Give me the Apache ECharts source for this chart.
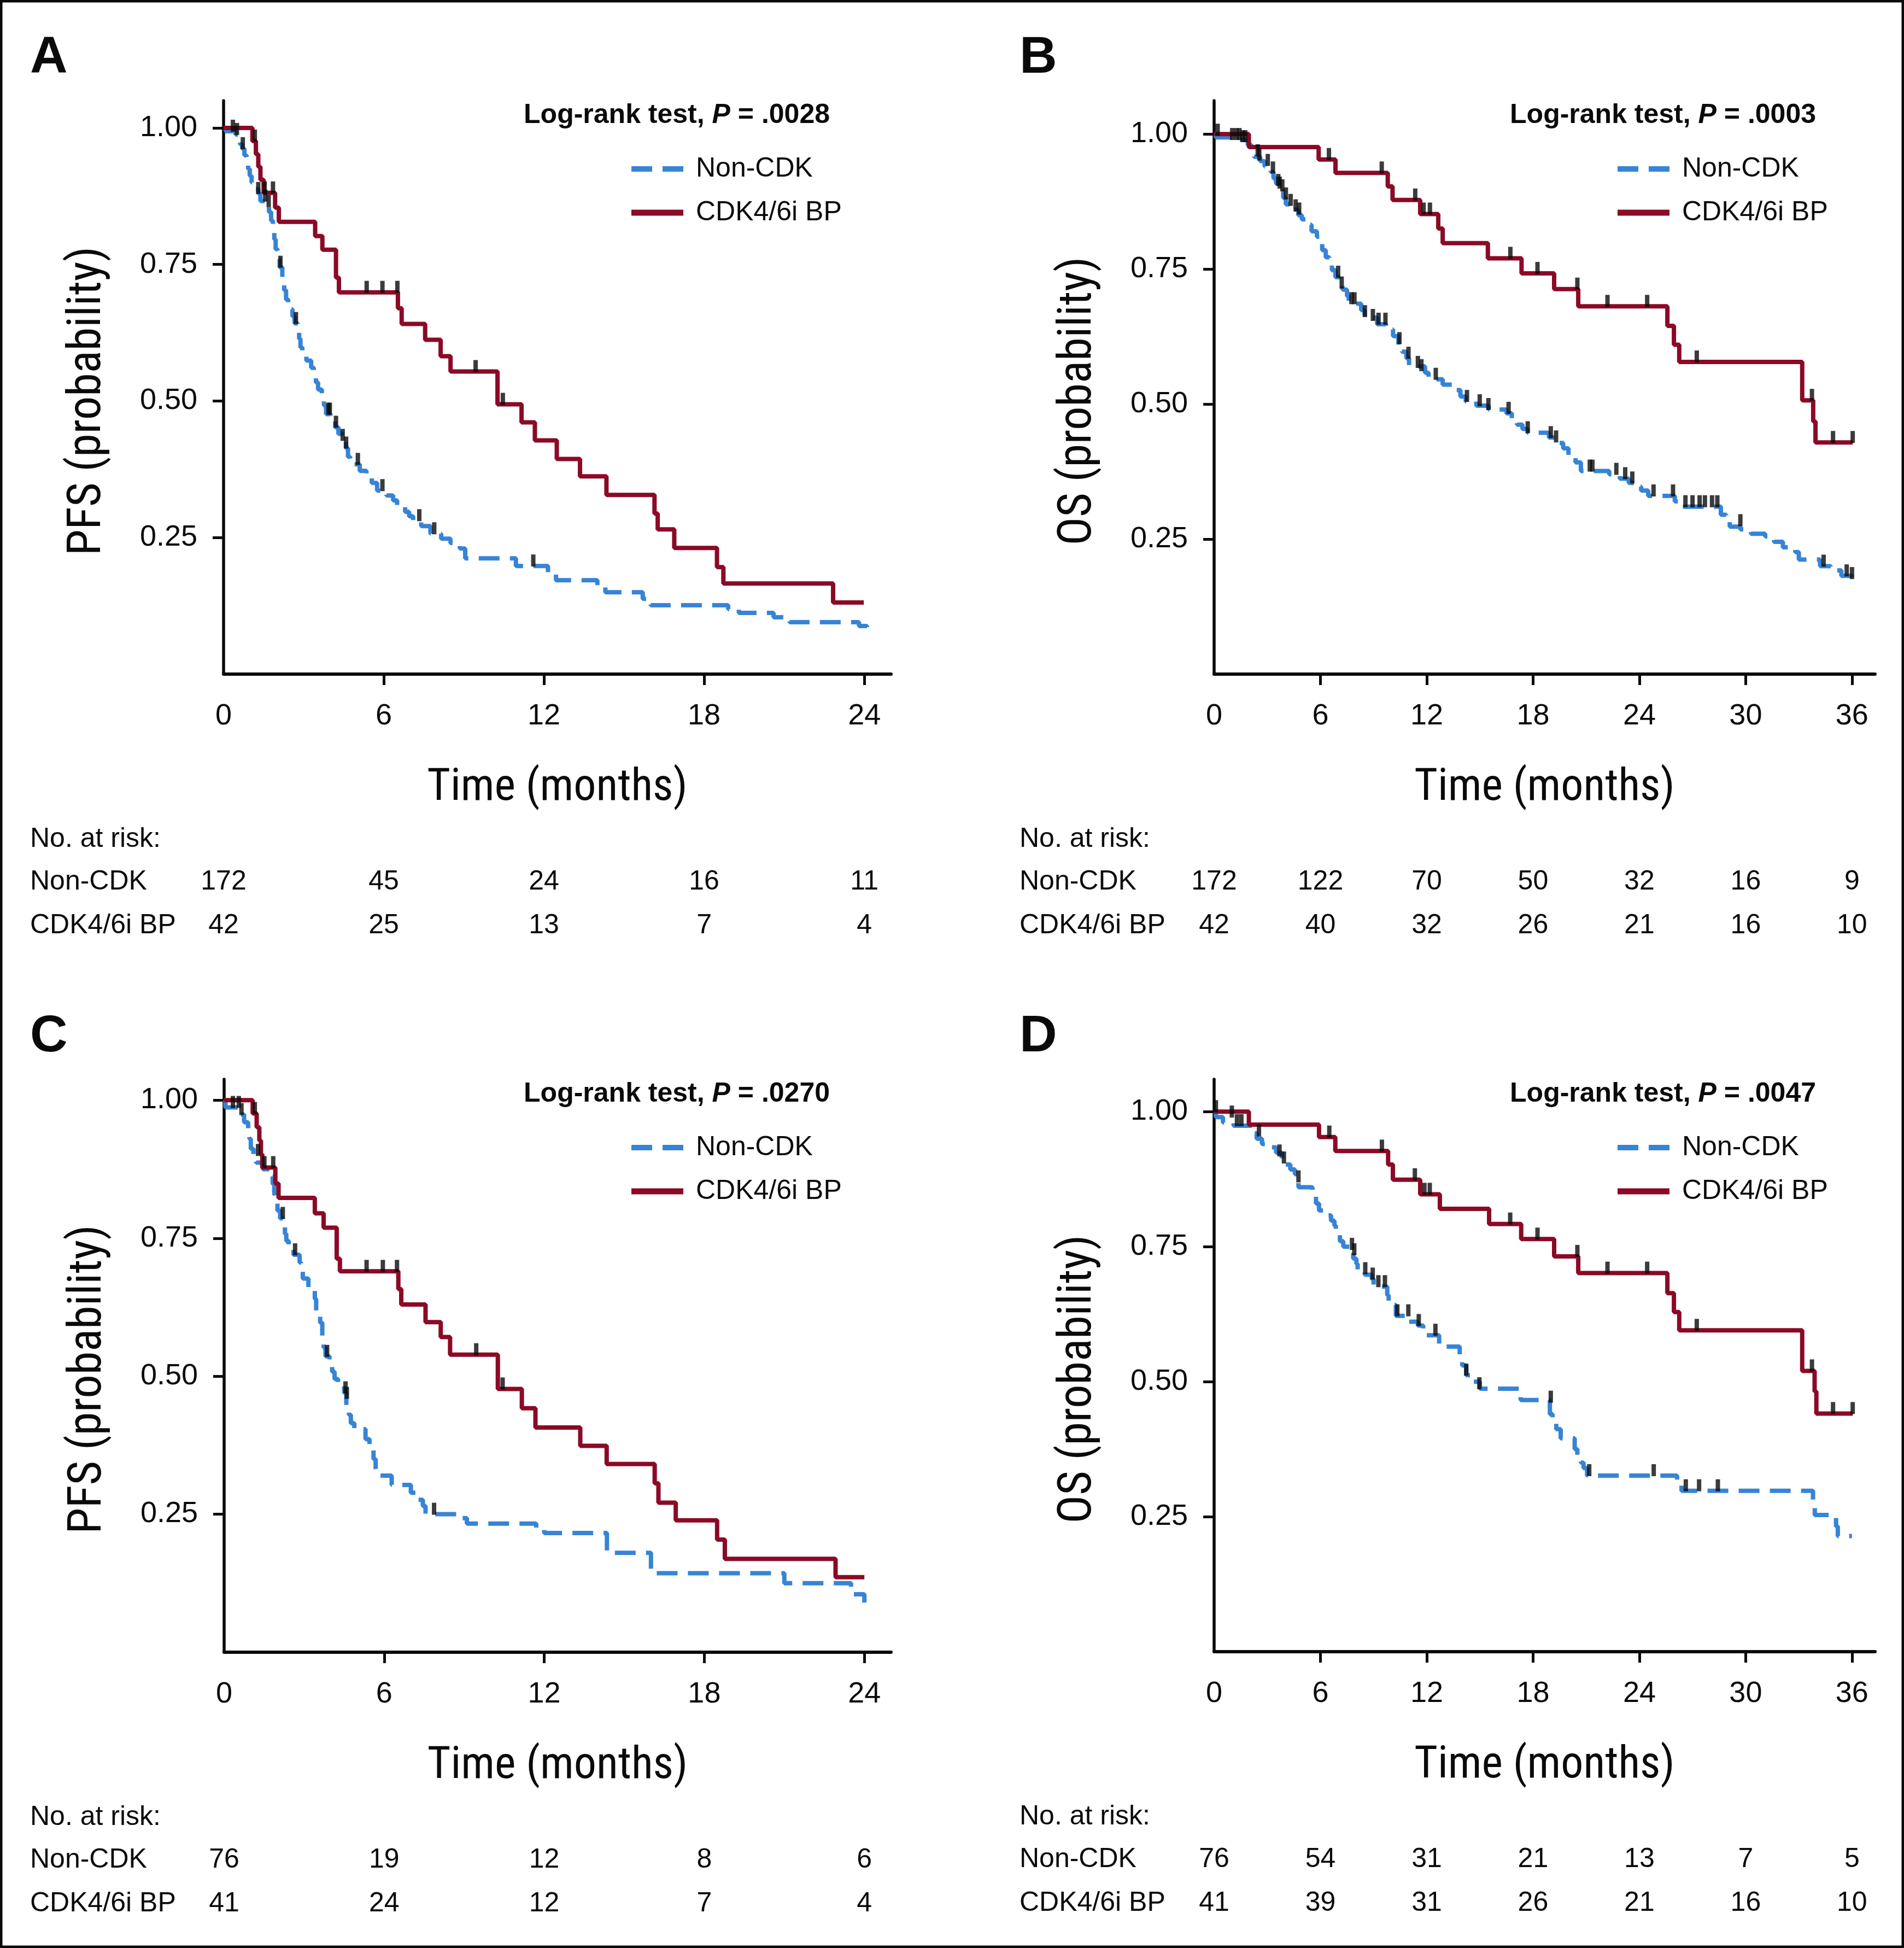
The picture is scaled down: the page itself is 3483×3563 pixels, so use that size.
<!DOCTYPE html>
<html><head><meta charset="utf-8">
<script src="https://cdn.jsdelivr.net/npm/echarts@6/dist/echarts.min.js"></script>
<style>html,body{margin:0;padding:0;background:#fff}#c{width:3483px;height:3563px}</style>
</head><body><div id="c"></div>
<script>
// ---------- DATA ----------
// Panel A: PFS, all patients (step points: [time, survival after event])
const pfsAllNonCdk = [[0,1],[0.08,0.994],[0.45,0.988],[0.55,0.981],[0.62,0.970],[0.70,0.962],[0.78,0.950],[0.86,0.940],[0.92,0.925],[0.98,0.912],[1.05,0.900],[1.12,0.888],[1.30,0.880],[1.38,0.866],[1.60,0.856],[1.70,0.846],[1.78,0.830],[1.85,0.814],[1.90,0.796],[1.95,0.778],[2.02,0.760],[2.10,0.745],[2.20,0.722],[2.27,0.703],[2.34,0.686],[2.42,0.668],[2.58,0.655],[2.66,0.642],[2.78,0.630],[2.83,0.614],[2.88,0.598],[2.95,0.586],[3.10,0.574],[3.28,0.561],[3.38,0.547],[3.46,0.534],[3.54,0.521],[3.68,0.508],[3.76,0.492],[3.84,0.476],[4.00,0.464],[4.18,0.452],[4.30,0.440],[4.45,0.428],[4.58,0.414],[4.66,0.398],[4.74,0.384],[5.10,0.372],[5.35,0.362],[5.55,0.350],[5.75,0.336],[6.10,0.327],[6.35,0.318],[6.50,0.308],[6.80,0.297],[6.95,0.289],[7.10,0.281],[7.40,0.271],[7.75,0.257],[8.15,0.248],[8.50,0.240],[8.85,0.230],[9.05,0.212],[10.95,0.198],[12.15,0.186],[12.45,0.172],[14.0,0.162],[14.3,0.150],[15.7,0.138],[16.0,0.126],[18.9,0.119],[19.3,0.112],[20.6,0.104],[21.2,0.095],[23.8,0.088],[24.1,0.081]];
const pfsAllCdk = [[0,1],[1.08,0.976],[1.21,0.952],[1.30,0.929],[1.38,0.905],[1.50,0.881],[1.93,0.854],[2.07,0.828],[3.43,0.802],[3.70,0.777],[4.21,0.726],[4.32,0.699],[6.53,0.670],[6.67,0.641],[7.55,0.612],[8.13,0.582],[8.50,0.554],[10.26,0.494],[11.16,0.461],[11.66,0.428],[12.48,0.394],[13.35,0.362],[14.34,0.328],[16.14,0.294],[16.26,0.265],[16.88,0.231],[18.48,0.196],[18.72,0.166],[22.83,0.131],[23.98,0.131]];
const pfsAllNonCdkCensor = [[0.35,0.994],[0.50,0.988],[0.72,0.962],[1.30,0.880],[1.56,0.866],[1.69,0.856],[2.13,0.745],[2.71,0.642],[3.93,0.476],[3.98,0.476],[4.21,0.452],[4.46,0.428],[4.59,0.414],[5.03,0.384],[5.95,0.336],[7.33,0.281],[7.89,0.257],[11.6,0.198]];
const pfsAllCdkCensor = [[1.17,0.976],[1.54,0.881],[1.85,0.881],[5.36,0.699],[5.95,0.699],[6.51,0.699],[9.44,0.554],[10.46,0.494]];
const pfsAllRiskTimes = [0,6,12,18,24];
const pfsAllRiskNonCdk = [172,45,24,16,11];
const pfsAllRiskCdk = [42,25,13,7,4];

// Panel B: OS, all patients
const osAllNonCdk = [[0,1],[0.1,0.994],[1.1,0.990],[1.9,0.980],[2.1,0.968],[2.25,0.958],[2.6,0.950],[2.85,0.940],[3.2,0.930],[3.35,0.918],[3.5,0.908],[3.75,0.895],[3.9,0.882],[4.05,0.870],[4.35,0.860],[4.75,0.850],[4.95,0.842],[5.3,0.832],[5.5,0.820],[5.8,0.810],[5.95,0.797],[6.1,0.785],[6.3,0.772],[6.5,0.760],[6.65,0.748],[6.85,0.735],[7.05,0.725],[7.25,0.712],[7.5,0.700],[7.6,0.686],[8.3,0.674],[8.5,0.660],[9.2,0.648],[9.7,0.638],[10.1,0.626],[10.4,0.610],[10.6,0.597],[10.85,0.585],[11.0,0.570],[11.9,0.558],[12.1,0.546],[12.9,0.536],[13.6,0.526],[13.9,0.514],[14.2,0.505],[14.8,0.497],[15.5,0.490],[16.5,0.483],[16.8,0.472],[17.1,0.462],[17.4,0.454],[17.7,0.447],[18.9,0.438],[19.3,0.428],[19.7,0.418],[20.0,0.405],[20.4,0.392],[20.7,0.376],[22.3,0.370],[22.9,0.362],[23.4,0.354],[23.8,0.347],[24.1,0.340],[24.5,0.330],[26.0,0.320],[26.4,0.310],[28.6,0.295],[28.9,0.283],[29.1,0.273],[29.7,0.268],[30.3,0.260],[31.1,0.255],[31.6,0.245],[32.1,0.235],[32.8,0.226],[33.0,0.212],[34.2,0.200],[34.8,0.192],[35.4,0.182],[36.0,0.177]];
const osAllCdk = [[0,1],[1.96,0.976],[5.9,0.953],[6.85,0.928],[9.8,0.903],[10.07,0.878],[11.63,0.852],[12.65,0.825],[12.9,0.798],[15.45,0.770],[17.35,0.742],[19.19,0.713],[20.55,0.681],[25.58,0.645],[25.95,0.610],[26.25,0.578],[33.19,0.507],[33.81,0.468],[33.94,0.429],[36.04,0.429]];
const osAllNonCdkCensor = [[0.2,0.998],[1.02,0.99],[1.26,0.99],[1.43,0.99],[1.61,0.986],[1.76,0.986],[2.46,0.96],[2.55,0.952],[3.03,0.942],[3.32,0.928],[3.62,0.905],[3.7,0.9],[3.85,0.895],[4.05,0.88],[4.32,0.868],[4.6,0.858],[4.8,0.852],[7.0,0.735],[7.2,0.715],[7.75,0.686],[7.92,0.686],[8.51,0.662],[8.96,0.655],[9.28,0.648],[9.67,0.648],[10.46,0.612],[10.97,0.585],[11.5,0.568],[11.7,0.562],[12.51,0.546],[14.27,0.505],[14.99,0.497],[15.48,0.490],[16.62,0.483],[17.7,0.447],[19.0,0.438],[19.3,0.43],[21.2,0.376],[21.35,0.376],[22.7,0.37],[23.2,0.362],[23.6,0.354],[24.8,0.33],[25.9,0.33],[26.6,0.31],[27.0,0.31],[27.4,0.31],[27.7,0.31],[28.1,0.31],[28.4,0.31],[29.7,0.275],[34.4,0.2],[35.7,0.182],[36.0,0.177]];
const osAllCdkCensor = [[6.48,0.953],[9.46,0.928],[11.35,0.878],[11.82,0.852],[12.18,0.852],[16.72,0.770],[18.25,0.742],[20.5,0.713],[22.2,0.681],[24.44,0.681],[27.24,0.578],[33.74,0.507],[34.93,0.429],[36.04,0.429]];
const osAllRiskTimes = [0,6,12,18,24,30,36];
const osAllRiskNonCdk = [172,122,70,50,32,16,9];
const osAllRiskCdk = [42,40,32,26,21,16,10];

// Panel C: PFS, matched cohort
const pfsMatchedNonCdk = [[0,1],[0.05,0.987],[0.6,0.974],[0.75,0.960],[0.9,0.947],[0.95,0.930],[1.0,0.912],[1.1,0.900],[1.2,0.887],[1.45,0.875],[1.76,0.862],[1.82,0.848],[1.88,0.834],[1.92,0.815],[2.0,0.800],[2.1,0.786],[2.2,0.772],[2.28,0.758],[2.33,0.745],[2.42,0.732],[2.6,0.720],[2.83,0.706],[2.88,0.690],[2.95,0.677],[3.16,0.655],[3.4,0.640],[3.45,0.612],[3.6,0.597],[3.68,0.570],[3.73,0.552],[3.8,0.536],[3.95,0.522],[4.05,0.508],[4.14,0.495],[4.27,0.483],[4.5,0.470],[4.58,0.445],[4.68,0.430],[4.75,0.415],[4.88,0.404],[5.30,0.386],[5.45,0.368],[5.60,0.350],[5.68,0.334],[5.72,0.320],[6.28,0.303],[7.0,0.289],[7.25,0.276],[7.45,0.265],[7.55,0.250],[8.7,0.243],[9.1,0.233],[11.7,0.225],[12.0,0.216],[14.35,0.180],[16.0,0.143],[21.0,0.125],[23.5,0.105],[24.0,0.09]];
const pfsMatchedCdk = [[0,1],[1.07,0.976],[1.22,0.951],[1.32,0.927],[1.38,0.902],[1.43,0.878],[1.92,0.849],[2.04,0.823],[3.40,0.795],[3.73,0.769],[4.22,0.713],[4.34,0.690],[6.53,0.658],[6.64,0.630],[7.55,0.598],[8.12,0.571],[8.47,0.539],[10.26,0.477],[11.16,0.442],[11.67,0.407],[13.35,0.374],[14.34,0.341],[16.14,0.306],[16.28,0.271],[16.93,0.239],[18.48,0.204],[18.77,0.169],[22.92,0.136],[24.0,0.136]];
const pfsMatchedNonCdkCensor = [[0.33,0.987],[0.55,0.987],[0.65,0.974],[1.27,0.900],[2.2,0.786],[2.66,0.720],[3.86,0.536],[4.55,0.470],[4.6,0.460],[7.87,0.25]];
const pfsMatchedCdkCensor = [[1.15,0.976],[1.51,0.878],[1.84,0.878],[5.34,0.690],[5.95,0.690],[6.48,0.690],[9.45,0.539],[10.44,0.477]];
const pfsMatchedRiskTimes = [0,6,12,18,24];
const pfsMatchedRiskNonCdk = [76,19,12,8,6];
const pfsMatchedRiskCdk = [41,24,12,7,4];

// Panel D: OS, matched cohort
const osMatchedNonCdk = [[0,1],[0.1,0.990],[0.5,0.980],[1.1,0.974],[2.16,0.960],[2.4,0.950],[2.7,0.940],[3.15,0.934],[3.5,0.924],[3.82,0.913],[3.94,0.902],[4.3,0.893],[4.56,0.884],[4.76,0.860],[5.55,0.845],[5.75,0.830],[5.92,0.817],[6.42,0.808],[6.6,0.798],[6.79,0.789],[6.87,0.772],[7.1,0.760],[7.29,0.750],[7.66,0.740],[7.85,0.728],[8.03,0.718],[8.1,0.707],[8.5,0.698],[8.9,0.690],[9.0,0.676],[9.77,0.660],[9.85,0.642],[10.26,0.622],[11.0,0.611],[11.5,0.604],[11.8,0.586],[12.7,0.565],[13.86,0.547],[14.0,0.530],[14.23,0.512],[14.6,0.500],[15.0,0.487],[17.3,0.466],[18.95,0.440],[19.1,0.425],[19.31,0.412],[19.56,0.395],[20.35,0.375],[20.5,0.363],[20.7,0.350],[20.85,0.340],[21.05,0.326],[26.13,0.310],[26.38,0.298],[33.8,0.270],[33.9,0.253],[35.1,0.232],[35.2,0.214],[36.0,0.214]];
const osMatchedCdk = [[0,1],[1.96,0.976],[5.92,0.953],[6.84,0.927],[9.82,0.902],[10.09,0.874],[11.63,0.847],[12.74,0.820],[15.52,0.792],[17.33,0.764],[19.19,0.732],[20.55,0.701],[25.58,0.664],[25.95,0.629],[26.25,0.595],[33.19,0.520],[33.89,0.482],[33.99,0.441],[36.04,0.441]];
const osMatchedNonCdkCensor = [[0.1,1.0],[1.0,0.99],[1.29,0.974],[1.54,0.974],[2.53,0.955],[3.69,0.918],[3.94,0.905],[4.76,0.870],[7.78,0.745],[7.91,0.735],[8.53,0.700],[8.95,0.690],[9.27,0.676],[9.64,0.676],[10.34,0.622],[10.96,0.622],[11.55,0.604],[12.49,0.586],[14.23,0.512],[14.97,0.487],[19.0,0.462],[21.17,0.326],[24.81,0.326],[26.62,0.298],[27.37,0.298],[28.43,0.298]];
const osMatchedCdkCensor = [[6.5,0.953],[9.47,0.927],[11.33,0.874],[11.87,0.847],[12.17,0.847],[16.71,0.792],[18.25,0.764],[20.5,0.732],[22.2,0.701],[24.44,0.701],[27.24,0.595],[33.74,0.520],[34.93,0.441],[36.04,0.441]];
const osMatchedRiskTimes = [0,6,12,18,24,30,36];
const osMatchedRiskNonCdk = [76,54,31,21,13,7,5];
const osMatchedRiskCdk = [41,39,31,26,21,16,10];

const groupNames = ['Non-CDK', 'CDK4/6i BP'];
const panelLetters = ['A', 'B', 'C', 'D'];
const yAxisNames = ['PFS (probability)', 'OS (probability)', 'PFS (probability)', 'OS (probability)'];
const pValues = ['.0028', '.0003', '.0270', '.0047'];
const yTickValues = [0.25, 0.5, 0.75, 1.0];
const xTickValues24 = [0, 6, 12, 18, 24];
const xTickValues36 = [0, 6, 12, 18, 24, 30, 36];

// ---------- STYLE / LAYOUT ----------
const BLUE = '#3784d6', RED = '#8b0a26', INK = '#0a0a0a';
const FONT = "'Liberation Sans', Arial, Helvetica, sans-serif";
const NARROW = "'Liberation Sans Narrow', 'Arial Narrow', 'Roboto Condensed', 'DejaVu Sans Condensed', 'Liberation Sans', sans-serif";

const panels = [
  {left:409, top:184, right:1630, bottom:1233, xMax:25, yMax:1.05, ticks:xTickValues24,
   non:pfsAllNonCdk, cdk:pfsAllCdk, nonC:pfsAllNonCdkCensor, cdkC:pfsAllCdkCensor,
   rt:pfsAllRiskTimes, rn:pfsAllRiskNonCdk, rc:pfsAllRiskCdk, textLeft:55, logRight:1518, legLeft:1150},
  {left:2221, top:184, right:3430, bottom:1233, xMax:37.3, yMax:1.062, ticks:xTickValues36,
   non:osAllNonCdk, cdk:osAllCdk, nonC:osAllNonCdkCensor, cdkC:osAllCdkCensor,
   rt:osAllRiskTimes, rn:osAllRiskNonCdk, rc:osAllRiskCdk, textLeft:1865, logRight:3322, legLeft:2954},
  {left:410, top:1974, right:1630, bottom:3022, xMax:25, yMax:1.038, ticks:xTickValues24,
   non:pfsMatchedNonCdk, cdk:pfsMatchedCdk, nonC:pfsMatchedNonCdkCensor, cdkC:pfsMatchedCdkCensor,
   rt:pfsMatchedRiskTimes, rn:pfsMatchedRiskNonCdk, rc:pfsMatchedRiskCdk, textLeft:55, logRight:1518, legLeft:1150},
  {left:2221, top:1974, right:3430, bottom:3021, xMax:37.3, yMax:1.06, ticks:xTickValues36,
   non:osMatchedNonCdk, cdk:osMatchedCdk, nonC:osMatchedNonCdkCensor, cdkC:osMatchedCdkCensor,
   rt:osMatchedRiskTimes, rn:osMatchedRiskNonCdk, rc:osMatchedRiskCdk, textLeft:1865, logRight:3322, legLeft:2954}
];

const grid = [], xAxis = [], yAxis = [], series = [], legend = [], graphic = [];

graphic.push({type:'rect', shape:{x:2, y:2, width:3479, height:3559}, style:{fill:'none', stroke:INK, lineWidth:5}, z:100});

panels.forEach((p, i) => {
  const w = p.right - p.left, h = p.bottom - p.top;
  const gi = grid.length;
  grid.push({left:p.left, top:p.top, width:w, height:h, outerBoundsMode:'none'});
  grid.push({left:p.left, top:p.bottom + 340, width:w, height:160, outerBoundsMode:'none'});

  xAxis.push({
    type:'value', gridIndex:gi, min:0, max:p.xMax, interval:6,
    splitLine:{show:false},
    axisLine:{show:true, onZero:false, lineStyle:{color:INK, width:6}},
    axisTick:{show:true, length:20, lineStyle:{color:INK, width:5}, customValues:p.ticks.slice(1)},
    axisLabel:{customValues:p.ticks, margin:50, fontSize:54, color:INK, fontFamily:FONT},
    name:'Time (months)', nameLocation:'middle', nameGap:168,
    nameTextStyle:{fontSize:82, color:INK, fontFamily:NARROW}
  });
  xAxis.push({type:'value', gridIndex:gi + 1, min:0, max:p.xMax, show:false});

  yAxis.push({
    type:'value', gridIndex:gi, min:0, max:p.yMax, interval:0.25,
    splitLine:{show:false},
    axisLine:{show:true, onZero:false, lineStyle:{color:INK, width:5.5}},
    axisTick:{show:true, length:20, lineStyle:{color:INK, width:5}, customValues:yTickValues},
    axisLabel:{customValues:yTickValues, margin:48, fontSize:54, color:INK, fontFamily:FONT,
               formatter:(v) => v.toFixed(2)}
  });
  yAxis.push({
    type:'category', gridIndex:gi + 1, inverse:true, data:groupNames,
    axisLine:{show:false}, axisTick:{show:false}, splitLine:{show:false},
    axisLabel:{align:'left', margin:p.left - p.textLeft, fontSize:50, color:INK, fontFamily:FONT}
  });

  series.push({
    type:'line', name:groupNames[0], xAxisIndex:gi, yAxisIndex:gi, data:p.non, step:'end',
    symbol:'none', showSymbol:false, silent:true, z:2,
    lineStyle:{color:BLUE, width:8, type:[38,19], cap:'butt'}, itemStyle:{color:BLUE}
  });
  series.push({
    type:'line', name:groupNames[1], xAxisIndex:gi, yAxisIndex:gi, data:p.cdk, step:'end',
    symbol:'none', showSymbol:false, silent:true, z:3,
    lineStyle:{color:RED, width:8}, itemStyle:{color:RED}
  });
  [p.nonC, p.cdkC].forEach(c => series.push({
    type:'scatter', name:'censor', xAxisIndex:gi, yAxisIndex:gi, data:c,
    symbol:'rect', symbolSize:[8,22], symbolOffset:[0,-10], silent:true, z:5,
    itemStyle:{color:INK}
  }));
  series.push({
    type:'scatter', name:'risk', xAxisIndex:gi + 1, yAxisIndex:gi + 1, silent:true,
    data:p.rt.map((t, k) => [t, groupNames[0], p.rn[k]]).concat(p.rt.map((t, k) => [t, groupNames[1], p.rc[k]])),
    symbolSize:1, itemStyle:{color:'rgba(255,255,255,0)'},
    label:{show:true, position:'inside', formatter:(d) => String(d.value[2]), fontSize:50,
           color:INK, fontFamily:FONT, textBorderWidth:0, opacity:1}
  });

  legend.push({
    orient:'vertical', left:p.legLeft, top:p.top + 92, itemWidth:95, itemHeight:11, itemGap:24,
    selectedMode:false,
    data:[{name:groupNames[0], icon:'path://M0,0H38V10H0Z M57,0H95V10H57Z'},
          {name:groupNames[1], icon:'rect'}],
    textStyle:{fontSize:50, color:INK, fontFamily:FONT, lineHeight:56, padding:[0,0,0,18]}
  });

  graphic.push({type:'text', x:p.textLeft, y:p.top - 77, style:{text:panelLetters[i], fontSize:95, fontWeight:'bold', fontFamily:FONT, fill:INK, align:'left', verticalAlign:'middle'}});
  graphic.push({type:'text', x:p.logRight, y:p.top + 27, style:{
    text:'{b|Log-rank test, }{i|P}{b| = ' + pValues[i] + '}', align:'right', verticalAlign:'middle',
    rich:{b:{fontSize:50, fontWeight:'bold', fontFamily:FONT, fill:INK},
          i:{fontSize:50, fontWeight:'bold', fontStyle:'italic', fontFamily:FONT, fill:INK}}}});
  graphic.push({type:'text', x:p.left - 248, y:(p.top + p.bottom) / 2 + 25, rotation:Math.PI / 2,
    style:{text:yAxisNames[i], fontSize:86, fontFamily:NARROW, fill:INK, align:'center', verticalAlign:'middle'}});
  graphic.push({type:'text', x:p.textLeft, y:p.bottom + 302, style:{text:'No. at risk:', fontSize:50, fontFamily:FONT, fill:INK, align:'left', verticalAlign:'middle'}});
});

const chart = echarts.init(document.getElementById('c'), null, {renderer:'canvas', width:3483, height:3563});
chart.setOption({
  animation:false, backgroundColor:'#ffffff',
  textStyle:{fontFamily:FONT},
  grid, xAxis, yAxis, series, legend, graphic
});
</script>
</body></html>
